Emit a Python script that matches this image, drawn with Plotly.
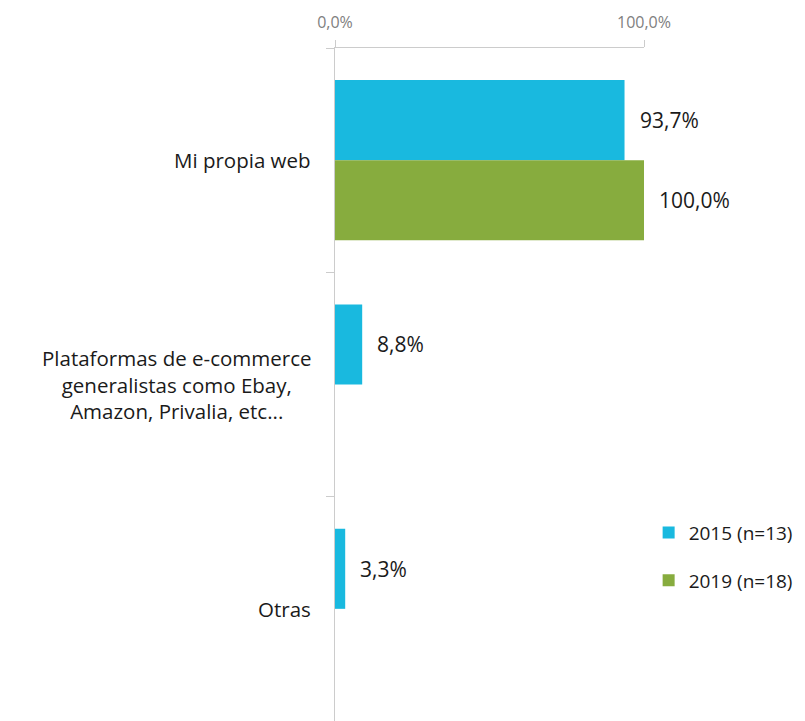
import plotly.graph_objects as go

categories = ["Mi propia web",
              "Plataformas de e-commerce<br>generalistas como Ebay,<br>Amazon, Privalia, etc...",
              "Otras"]
series_names = ["2015 (n=13)", "2019 (n=18)"]
values_2015 = [93.7, 8.8, 3.3]
values_2019 = [100.0, None, None]
x_ticks = [0, 100]
x_tick_labels = ["0,0%", "100,0%"]

colors = ["#19B9DF", "#87AC3E"]
FONT = "Open Sans"

fig = go.Figure()
for i, (name, vals) in enumerate(zip(series_names, [values_2015, values_2019])):
    fig.add_trace(go.Bar(
        y=list(range(len(categories))), x=vals, name=name, orientation="h",
        marker=dict(color=colors[i], line=dict(width=0)),
        legendgroup=name, hoverinfo="skip",
    ))

annotations = []
bar_w = (1 - 0.286) / 2
for i, vals in enumerate([values_2015, values_2019]):
    off = -bar_w / 2 if i == 0 else bar_w / 2
    for j, v in enumerate(vals):
        if v is None:
            continue
        annotations.append(dict(
            x=v, y=j + off, xref="x", yref="y",
            text=f"{v:.1f}%".replace(".", ","), showarrow=False,
            xanchor="left", xshift=13,
            font=dict(family=FONT, size=21, color="#1a1a1a"),
        ))
for j, c in enumerate(categories):
    annotations.append(dict(
        x=0, y=j, xref="paper", yref="y", text=c, showarrow=False,
        xanchor="right", xshift=-22, align="center",
        font=dict(family=FONT, size=20.5, color="#1a1a1a"),
    ))

# page body has an 8px margin, so the figure is offset by 8px
fig.update_layout(
    width=797, height=713,
    margin=dict(l=327, r=161, t=40, b=0, autoexpand=False),
    paper_bgcolor="white", plot_bgcolor="white",
    barmode="group", bargap=0.286, bargroupgap=0,
    showlegend=True,
    legend=dict(x=1.015, y=0.308, xanchor="left", yanchor="top",
                font=dict(family=FONT, size=19, color="#1a1a1a"),
                tracegroupgap=20, itemwidth=30),
    annotations=annotations,
    xaxis=dict(side="top", range=[0, 100], tickvals=x_ticks,
               ticktext=x_tick_labels,
               ticks="outside", ticklen=7, tickcolor="#cccccc",
               ticklabelstandoff=6,
               showline=True, linecolor="#cccccc", linewidth=1,
               showgrid=False, zeroline=False,
               tickfont=dict(family=FONT, size=16, color="#808080")),
    yaxis=dict(range=[2.5, -0.5], tickvals=[-0.5, 0.5, 1.5, 2.5],
               ticktext=["", "", "", ""],
               ticks="outside", ticklen=8, tickcolor="#cccccc",
               showline=True, linecolor="#cccccc", linewidth=1,
               showgrid=False, zeroline=False),
)

fig.write_html("out.html")
